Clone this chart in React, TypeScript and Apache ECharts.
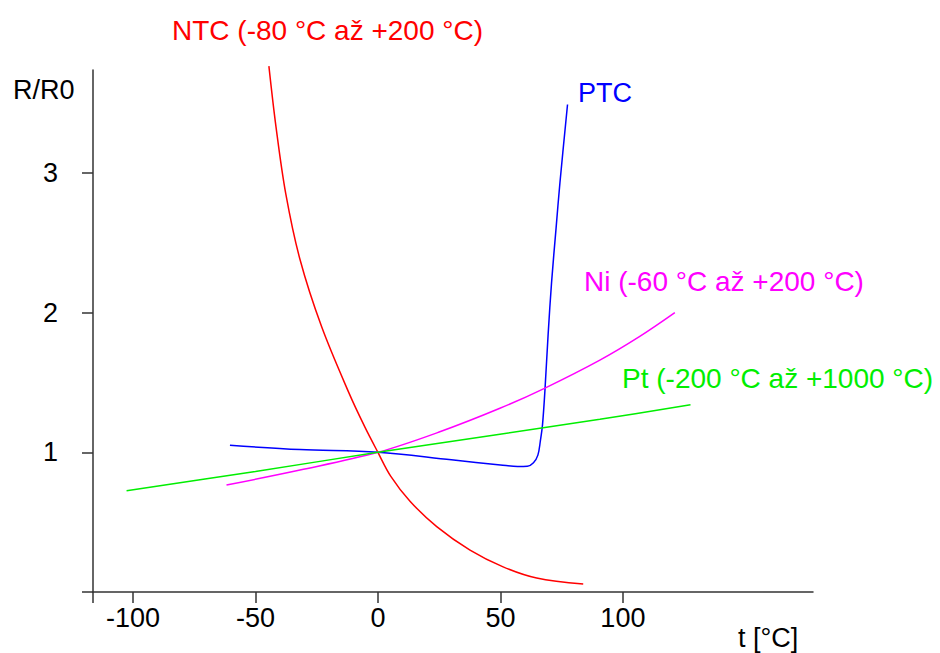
import React, { useEffect, useRef } from "react";
import * as echarts from "echarts";

// Data (t in °C, R/R0)
const ntcData: [number, number][] = [
  [-44.5, 3.765], [-41.6, 3.33], [-37.6, 2.85], [-31.8, 2.38], [-23.0, 1.9],
  [-11.7, 1.42], [-5.3, 1.18], [0, 1.0], [5.2, 0.83], [13.1, 0.65],
  [24, 0.468], [37.6, 0.3], [51.1, 0.18], [64.8, 0.1], [83.8, 0.057],
];
const ptcData: [number, number][] = [
  [-60.4, 1.05], [-31.8, 1.02], [0, 1.0], [30, 0.946], [50, 0.91], [57, 0.898],
  [61, 0.9], [63.5, 0.925], [65.3, 0.98], [66.3, 1.08], [67.2, 1.2],
  [68.2, 1.45], [69.5, 1.85], [70.9, 2.22], [72.7, 2.6], [74.3, 2.93], [77.4, 3.49],
];
const niData: [number, number][] = [
  [-61.8, 0.766], [-31.8, 0.873], [0, 1.0], [25, 1.145], [49.8, 1.315],
  [68.2, 1.46], [90.6, 1.66], [106.9, 1.83], [121.2, 2.0],
];
const ptData: [number, number][] = [
  [-102.6, 0.725], [-50, 0.863], [0, 1.0], [49.8, 1.13], [90.6, 1.236], [127.6, 1.34],
];

const xTickLabels = [-100, -50, 0, 50, 100];
const yTickLabels = [1, 2, 3];
const X_MIN = -116.3;
const X_MAX = 177.6;
const Y_MIN = 0;
const Y_MAX = 3.737;

const seriesNames = ["NTC", "PTC", "Ni", "Pt"];
const seriesLabels = [
  "NTC (-80 °C až +200 °C)",
  "PTC",
  "Ni (-60 °C až +200 °C)",
  "Pt (-200 °C až +1000 °C)",
];
const colors = ["#ff0000", "#0000ff", "#ff00ff", "#00ee00"];

const FONT = "'Liberation Sans', Arial, sans-serif";

export default function App() {
  const ref = useRef<HTMLDivElement>(null);
  useEffect(() => {
    document.body.style.margin = "0";
    if (!ref.current) return;
    const chart = echarts.init(ref.current, undefined, { renderer: "svg" });
    const axisColor = "#333";
    const datas = [ntcData, ptcData, niData, ptData];
    chart.setOption({
      animation: false,
      backgroundColor: "#fff",
      textStyle: { fontFamily: FONT },
      grid: {
        left: 93,
        right: 127,
        top: 70,
        bottom: 61,
        containLabel: false,
        outerBoundsMode: "none",
      },
      xAxis: {
        type: "value",
        min: X_MIN,
        max: X_MAX,
        splitLine: { show: false },
        axisLine: { show: true, onZero: true, lineStyle: { color: axisColor, width: 1.5 } },
        axisTick: {
          show: true,
          length: 11,
          customValues: [X_MIN, ...xTickLabels],
          lineStyle: { color: axisColor, width: 1.5 },
        },
        axisLabel: {
          customValues: xTickLabels,
          fontSize: 27,
          color: "#000",
          fontFamily: FONT,
          margin: 12,
        },
      },
      yAxis: {
        type: "value",
        min: Y_MIN,
        max: Y_MAX,
        splitLine: { show: false },
        axisLine: { show: true, onZero: false, lineStyle: { color: axisColor, width: 1.5 } },
        axisTick: {
          show: true,
          length: 11,
          customValues: [0, ...yTickLabels],
          lineStyle: { color: axisColor, width: 1.5 },
        },
        axisLabel: {
          customValues: yTickLabels,
          fontSize: 27,
          color: "#000",
          fontFamily: FONT,
          margin: 35,
        },
      },
      series: datas.map((d, i) => ({
        name: seriesNames[i],
        type: "line",
        data: d,
        showSymbol: false,
        symbol: "none",
        smooth: 0.35,
        clip: false,
        lineStyle: { color: colors[i], width: 1.5 },
      })),
      graphic: [
        { type: "text", x: 172, y: 30, style: { text: seriesLabels[0], fill: colors[0], font: `28px ${FONT}`, verticalAlign: "middle" } },
        { type: "text", x: 578, y: 93, style: { text: seriesLabels[1], fill: colors[1], font: `27px ${FONT}`, verticalAlign: "middle" } },
        { type: "text", x: 584, y: 281, style: { text: seriesLabels[2], fill: colors[2], font: `28px ${FONT}`, verticalAlign: "middle" } },
        { type: "text", x: 622, y: 378, style: { text: seriesLabels[3], fill: colors[3], font: `28px ${FONT}`, verticalAlign: "middle" } },
        { type: "text", x: 13, y: 90, style: { text: "R/R0", fill: "#000", font: `27px ${FONT}`, verticalAlign: "middle" } },
        { type: "text", x: 738, y: 638, style: { text: "t [°C]", fill: "#000", font: `27px ${FONT}`, verticalAlign: "middle" } },
      ],
    });
    return () => chart.dispose();
  }, []);
  return (
    <div
      ref={ref}
      style={{ position: "absolute", left: 0, top: 0, width: 940, height: 653 }}
    />
  );
}
